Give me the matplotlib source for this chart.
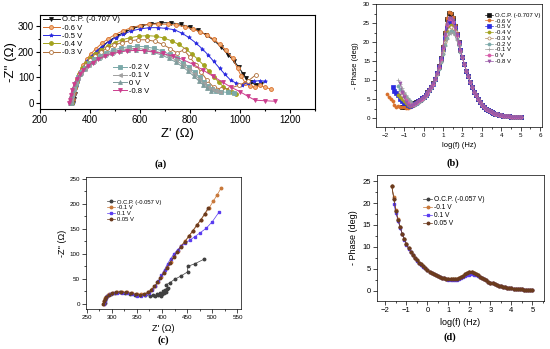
import matplotlib
matplotlib.use("Agg")
import matplotlib.pyplot as plt
from matplotlib.ticker import MultipleLocator

plt.rcParams["font.family"] = ["Liberation Sans", "DejaVu Sans"]

# ── (a) Nyquist plot, first electrode: Z' and -Z'' in ohm ─────────────────
a_ocp_z = [332, 335, 339, 345, 352, 362, 375, 390, 408, 428, 452, 478, 506, 538, 572, 608, 645,
           685, 725, 762, 798, 832, 865, 895, 925, 952, 975, 995, 1012, 1025, 1042, 1062, 1085]
a_ocp_y = [0, 15, 35, 62, 90, 115, 140, 162, 183, 203, 224, 243, 260, 276, 290, 301, 308,
           312, 312, 306, 296, 282, 265, 244, 218, 188, 165, 140, 115, 98, 82, 72, 75]
a_m06_z = [328, 331, 335, 341, 349, 359, 371, 386, 404, 424, 447, 472, 500, 530, 563, 598, 635, 672,
           710, 745, 778, 810, 840, 868, 895, 920, 945, 970, 990, 1005, 1020, 1040, 1060, 1080, 1100, 1125]
a_m06_y = [0, 18, 40, 68, 96, 122, 147, 170, 192, 212, 232, 250, 266, 280, 292, 301, 306, 307,
           306, 303, 297, 288, 277, 264, 248, 228, 205, 175, 135, 105, 80, 66, 62, 70, 62, 55]
a_m05_z = [330, 333, 337, 343, 351, 361, 374, 389, 406, 426, 449, 474, 502, 533, 565, 600, 637, 672,
           705, 737, 767, 795, 822, 848, 872, 895, 918, 940, 962, 985, 1008, 1030, 1055, 1080, 1100]
a_m05_y = [0, 16, 38, 65, 92, 118, 142, 163, 183, 202, 220, 238, 254, 268, 280, 288, 293, 293,
           290, 285, 272, 255, 235, 212, 188, 162, 136, 112, 90, 78, 72, 80, 85, 88, 85]
a_m04_z = [326, 329, 333, 339, 347, 357, 369, 384, 401, 421, 444, 470, 498, 528, 560, 594,
           628, 662, 695, 726, 755, 782, 808, 832, 855, 876, 896, 915, 933, 950, 968, 985]
a_m04_y = [0, 17, 38, 63, 88, 112, 135, 155, 174, 191, 207, 222, 235, 246, 254, 260,
           262, 260, 253, 242, 228, 211, 191, 170, 147, 124, 102, 82, 65, 52, 42, 36]
a_m03_z = [325, 328, 332, 338, 346, 356, 368, 383, 400, 420, 443, 468, 496, 526, 558, 592,
           626, 660, 692, 720, 748, 776, 800, 822, 845, 868, 895, 925, 960, 995, 1030, 1063]
a_m03_y = [0, 16, 36, 60, 84, 108, 130, 150, 168, 184, 199, 213, 225, 235, 242, 246,
           246, 240, 228, 212, 195, 207, 178, 150, 120, 90, 62, 55, 58, 70, 85, 110]
a_m02_z = [322, 325, 329, 335, 343, 353, 365, 380, 397, 417, 440, 465, 493, 523, 555, 588,
           622, 655, 688, 718, 746, 772, 796, 818, 838, 856, 872, 888, 905, 925, 950, 975]
a_m02_y = [0, 15, 33, 55, 78, 100, 120, 138, 155, 170, 184, 196, 206, 214, 219, 221,
           219, 213, 203, 190, 175, 158, 140, 120, 100, 82, 66, 55, 48, 45, 42, 40]
a_m01_z = [320, 323, 327, 333, 341, 351, 363, 378, 395, 415, 438, 463, 491, 521, 553,
           586, 620, 653, 686, 716, 744, 770, 794, 816, 836, 854, 870, 886, 902, 920]
a_m01_y = [0, 14, 32, 54, 76, 97, 116, 134, 150, 165, 178, 190, 200, 207, 212,
           213, 210, 204, 195, 182, 167, 150, 132, 113, 95, 78, 64, 54, 47, 42]
a_0_z = [318, 321, 325, 331, 339, 349, 361, 376, 393, 413, 436, 461, 489, 519,
         551, 584, 618, 651, 684, 714, 742, 768, 792, 814, 834, 852, 868, 884]
a_0_y = [0, 14, 31, 52, 74, 95, 114, 131, 147, 161, 174, 186, 195, 202,
         206, 207, 204, 198, 188, 175, 160, 143, 125, 106, 88, 72, 58, 48]
a_m08_z = [315, 318, 322, 328, 336, 346, 358, 373, 390, 410, 433, 458, 486, 516, 548, 581,
           615, 650, 690, 730, 770, 810, 850, 890, 930, 965, 1000, 1030, 1060, 1100, 1140]
a_m08_y = [0, 14, 31, 52, 73, 93, 112, 129, 144, 158, 171, 182, 191, 198, 203, 205,
           204, 200, 193, 183, 170, 152, 130, 106, 82, 62, 45, 28, 12, 10, 8]

# ── (b) Bode phase, first electrode: log(f) and -phase in deg ─────────────
b_logf_tail = [5.0, 4.9, 4.8, 4.7, 4.6, 4.5, 4.4, 4.3, 4.2, 4.1, 4.0, 3.9, 3.8, 3.7, 3.6, 3.5,
               3.4, 3.3, 3.2, 3.1, 3.0, 2.9, 2.8, 2.7, 2.6, 2.5, 2.4, 2.3, 2.2, 2.1, 2.0]
b_logf_head = [1.9, 1.8, 1.7, 1.6, 1.5, 1.4, 1.3, 1.2, 1.1, 1.0, 0.9, 0.8, 0.7, 0.6, 0.5,
               0.4, 0.3, 0.2, 0.1, 0.0, -0.1, -0.2, -0.3, -0.4, -0.5, -0.6, -0.7, -0.8,
               -0.9, -1.0, -1.1, -1.2, -1.3, -1.4, -1.5, -1.6, -1.7, -1.8, -1.9]
b_phase_tail = [0.25, 0.27, 0.3, 0.33, 0.37, 0.41, 0.46, 0.52, 0.58, 0.66, 0.75, 0.86, 1.0, 1.15,
                1.33, 1.55, 1.8, 2.1, 2.5, 3.0, 3.5, 4.2, 5.0, 6.0, 7.0, 8.2, 9.5, 11.0, 12.5, 14.2, 16.0]
b_ocp = [18.0, 20.0, 22.2, 24.3, 26.2, 27.3, 27.6, 26.0, 22.5, 18.8, 15.8, 13.6, 11.9, 10.4, 9.2,
         8.3, 7.5, 6.8, 6.2, 5.7, 5.2, 4.8, 4.5, 4.2, 3.9, 3.6, 3.4, 3.2, 3.1, 3.0, 2.9]
b_m06 = [18.0, 20.0, 22.3, 24.5, 26.5, 27.6, 27.8, 26.2, 22.7, 19.0, 15.9, 13.7, 12.0, 10.5, 9.3,
         8.4, 7.6, 6.9, 6.2, 5.7, 5.2, 4.8, 4.4, 4.0, 3.6, 3.3, 3.0, 2.8, 2.8, 3.0,
         3.0, 2.9, 3.3, 3.0, 3.6, 4.4, 5.0, 5.7, 6.4]
b_m05 = [17.8, 19.8, 21.8, 23.6, 25.0, 25.5, 25.2, 23.8, 21.2, 18.2, 15.5, 13.4, 11.8, 10.3, 9.1,
         8.2, 7.4, 6.7, 6.1, 5.6, 5.2, 4.8, 4.4, 4.1, 3.8, 3.5, 3.3, 3.6, 4.2, 3.9,
         4.6, 5.0, 6.0, 6.5, 7.2, 8.2]
b_m04 = [17.7, 19.6, 21.5, 23.2, 24.3, 24.5, 24.0, 22.6, 20.4, 17.8, 15.3, 13.3, 11.7, 10.3, 9.1,
         8.2, 7.4, 6.7, 6.1, 5.6, 5.1, 4.7, 4.3, 4.0, 3.7, 3.4, 3.3, 3.5, 3.9, 4.4,
         5.0, 5.6, 6.0]
b_m03 = [17.6, 19.5, 21.3, 22.9, 23.8, 24.0, 23.5, 22.2, 20.0, 17.5, 15.1, 13.2, 11.6, 10.2, 9.0,
         8.1, 7.3, 6.6, 6.0, 5.5, 5.0, 4.6, 4.2, 3.9, 3.6, 3.5, 3.8, 4.2, 4.8, 5.3,
         6.0, 7.0]
b_m02 = [17.4, 19.2, 20.8, 22.0, 22.7, 22.8, 22.3, 21.1, 19.2, 17.0, 14.8, 13.0, 11.5, 10.1, 8.9,
         8.0, 7.2, 6.5, 5.9, 5.4, 4.9, 4.5, 4.1, 3.8, 3.6, 3.8, 4.4, 5.0, 5.6, 6.3,
         7.0, 7.8, 8.5]
b_m01 = [17.3, 19.0, 20.6, 21.8, 22.4, 22.5, 22.0, 20.8, 18.9, 16.8, 14.7, 12.9, 11.4, 10.0, 8.8,
         7.9, 7.1, 6.4, 5.8, 5.3, 4.8, 4.4, 4.0, 3.7, 3.5, 3.9, 4.5, 5.2, 6.0, 7.0,
         8.0, 9.0, 10.0]
b_0 = [17.8, 19.8, 21.9, 23.9, 25.4, 26.1, 26.0, 24.6, 21.8, 18.5, 15.6, 13.5, 11.8, 10.3, 9.1,
       8.2, 7.4, 6.7, 6.1, 5.6, 5.1, 4.7, 4.4, 4.1, 3.8, 3.6, 3.5, 4.0, 4.8, 5.8, 7.0]
b_m08 = [17.9, 19.9, 22.0, 24.0, 25.7, 26.4, 26.3, 24.8, 22.0, 18.6, 15.7, 13.6, 11.9, 10.4, 9.2,
         8.3, 7.5, 6.8, 6.2, 5.7, 5.2, 4.8, 4.4, 4.1, 3.8, 3.5, 3.3, 3.5, 4.2, 5.5,
         7.0, 9.2]

# ── (c) Nyquist plot, second electrode ────────────────────────────────────
c_ocp_z = [286, 287, 289, 293, 299, 307, 316, 326, 336, 346, 356, 366, 377, 382, 387, 390, 393, 396,
           398, 400, 402, 404, 406, 408, 410, 412, 407, 415, 425, 438, 451, 451, 465, 483]
c_ocp_y = [2, 8, 13, 17, 20, 22, 23, 22, 20, 18, 17, 17, 16, 18, 15, 20, 17, 22,
           16, 20, 25, 21, 28, 24, 30, 31, 38, 42, 49, 56, 64, 75, 80, 89]
c_m01_z = [284, 285, 287, 290, 295, 302, 310, 320, 330, 340, 350, 358, 366, 373, 380, 386, 392,
           398, 404, 410, 417, 424, 431, 438, 446, 454, 462, 470, 478, 486, 494, 502, 510, 518]
c_m01_y = [0, 6, 11, 15, 19, 21, 23, 24, 23, 21, 19, 19, 20, 24, 29, 36, 44,
           53, 63, 73, 84, 95, 106, 116, 125, 135, 146, 157, 168, 180, 192, 205, 218, 232]
c_p01_z = [285, 286, 288, 291, 296, 303, 311, 321, 331, 341, 351, 359, 367, 374, 381, 387,
           393, 399, 405, 411, 417, 424, 431, 438, 446, 455, 465, 476, 488, 500, 514]
c_p01_y = [0, 6, 11, 15, 19, 21, 22, 22, 21, 19, 16, 15, 17, 22, 28, 36,
           46, 57, 68, 80, 90, 100, 108, 115, 121, 127, 134, 142, 151, 164, 184]
c_p005_z = [283, 284, 286, 289, 294, 301, 309, 319, 329, 339, 349, 357, 365, 372, 379, 385,
            391, 397, 403, 409, 416, 423, 430, 437, 445, 453, 461, 469, 477, 485, 492]
c_p005_y = [0, 5, 10, 14, 18, 21, 23, 24, 23, 21, 19, 18, 19, 23, 28, 35,
            43, 52, 62, 72, 82, 93, 104, 114, 124, 135, 146, 157, 168, 180, 192]

# ── (d) Bode phase, second electrode ─────────────────────────────────────
d_logf = [5.0, 4.9, 4.8, 4.7, 4.6, 4.5, 4.4, 4.3, 4.2, 4.1, 4.0, 3.9, 3.8, 3.7, 3.6, 3.5, 3.4,
          3.3, 3.2, 3.1, 3.0, 2.9, 2.8, 2.7, 2.6, 2.5, 2.4, 2.3, 2.2, 2.1, 2.0, 1.9, 1.8, 1.7,
          1.6, 1.5, 1.4, 1.3, 1.2, 1.1, 1.0, 0.9, 0.8, 0.7, 0.6, 0.5, 0.4, 0.3, 0.2, 0.1, 0.0,
          -0.1, -0.2, -0.3, -0.4, -0.5, -0.6, -0.7, -0.8, -0.9, -1.0, -1.1, -1.2, -1.3, -1.4,
          -1.5, -1.6, -1.7]
d_ocp = [0.15, 0.16, 0.18, 0.2, 0.22, 0.25, 0.28, 0.32, 0.37, 0.42, 0.48, 0.55, 0.63, 0.73, 0.84,
         0.97, 1.12, 1.28, 1.45, 1.63, 1.82, 2.05, 2.3, 2.6, 2.9, 3.2, 3.55, 3.85, 4.1, 4.25, 4.2,
         4.0, 3.7, 3.4, 3.1, 2.85, 2.7, 2.6, 2.55, 2.55, 2.6, 2.7, 2.8, 2.95, 3.1, 3.3, 3.5, 3.75,
         4.0, 4.3, 4.7, 5.1, 5.5, 5.95, 6.4, 6.9, 7.5, 8.2, 8.9, 9.7, 10.6, 11.7, 13.0, 14.5,
         16.2, 18.1, 21.0, 24.0]
d_m01 = [0.15, 0.16, 0.18, 0.2, 0.22, 0.25, 0.28, 0.32, 0.37, 0.42, 0.48, 0.55, 0.63, 0.73, 0.84,
         0.97, 1.12, 1.28, 1.45, 1.63, 1.82, 2.05, 2.3, 2.6, 2.9, 3.2, 3.55, 3.85, 4.1, 4.25, 4.2,
         4.0, 3.7, 3.4, 3.1, 2.85, 2.7, 2.6, 2.55, 2.55, 2.6, 2.7, 2.8, 2.95, 3.1, 3.3, 3.5, 3.75,
         4.0, 4.3, 4.7, 5.1, 5.5, 5.95, 6.4, 6.9, 7.5, 8.2, 8.9, 9.7, 10.6, 11.7, 13.0, 14.5,
         16.3, 18.3, 21.3, 24.0]
d_p01 = [0.15, 0.16, 0.18, 0.2, 0.22, 0.25, 0.28, 0.32, 0.37, 0.42, 0.48, 0.55, 0.63, 0.73, 0.84,
         0.97, 1.12, 1.28, 1.45, 1.63, 1.82, 2.05, 2.3, 2.55, 2.8, 3.05, 3.3, 3.5, 3.65, 3.7, 3.65,
         3.5, 3.3, 3.05, 2.8, 2.6, 2.5, 2.45, 2.45, 2.45, 2.5, 2.6, 2.75, 2.9, 3.05, 3.25, 3.45, 3.7,
         3.95, 4.25, 4.65, 5.05, 5.45, 5.9, 6.35, 6.85, 7.45, 8.1, 8.8, 9.6, 10.5, 11.6, 12.9, 14.4,
         16.0, 17.8, 19.7]
d_p005 = d_ocp

# ── figure ────────────────────────────────────────────────────────────────
fig = plt.figure(figsize=(5.5, 3.49), dpi=100)


def style_axes(ax, size, lw):
    ax.tick_params(which="both", direction="out", labelsize=size, width=lw, pad=1.5)
    ax.tick_params(which="major", length=2.8)
    ax.tick_params(which="minor", length=1.5)
    for s in ax.spines.values():
        s.set_linewidth(lw)


def legend(ax, handles, x, y, size, spacing, hlen):
    return ax.legend(handles=handles, loc="upper left", bbox_to_anchor=(x, y), frameon=False,
                     fontsize=size, borderpad=0, borderaxespad=0, labelspacing=spacing,
                     handlelength=hlen, handletextpad=0.3)


def caption(x, y, text):
    fig.text(x / 550, 1 - y / 349, text, ha="center", va="center",
             fontfamily="Liberation Serif", fontweight="bold", fontsize=7.5)


# (a)
ax = fig.add_axes([40 / 550, 1 - 109 / 349, 275 / 550, 94 / 349])
series_a = [
    ("O.C.P. (-0.707 V)", a_ocp_z, a_ocp_y, "#111111", "v", "#111111"),
    ("-0.6 V", a_m06_z, a_m06_y, "#d8702c", "o", "#f2b27c"),
    ("-0.5 V", a_m05_z, a_m05_y, "#2b2be0", "*", "#2b2be0"),
    ("-0.4 V", a_m04_z, a_m04_y, "#a3a31e", "o", "#a3a31e"),
    ("-0.3 V", a_m03_z, a_m03_y, "#b0703a", "o", "white"),
    ("-0.2 V", a_m02_z, a_m02_y, "#7aa8a8", "s", "#7aa8a8"),
    ("-0.1 V", a_m01_z, a_m01_y, "#a0a0a0", "<", "#a0a0a0"),
    ("0 V", a_0_z, a_0_y, "#7f9c9c", "^", "#7f9c9c"),
    ("-0.8 V", a_m08_z, a_m08_y, "#cc3d8e", "v", "#cc3d8e"),
]
lines = []
for lbl, z, y, c, mk, mfc in series_a:
    ln, = ax.plot(z, y, color=c, marker=mk, mfc=mfc, mec=c, markersize=2.8, linewidth=0.7,
                  markeredgewidth=0.6, label=lbl)
    lines.append(ln)
ax.set_xlim(200, 1300)
ax.set_ylim(-22, 342)
ax.xaxis.set_major_locator(MultipleLocator(200))
ax.xaxis.set_minor_locator(MultipleLocator(100))
ax.yaxis.set_major_locator(MultipleLocator(100))
ax.yaxis.set_minor_locator(MultipleLocator(50))
style_axes(ax, 7, 0.8)
ax.set_xlabel("Z' (Ω)", fontsize=9.5, labelpad=2)
ax.set_ylabel("-Z'' (Ω)", fontsize=9.5, labelpad=1)
leg1 = legend(ax, lines[:5], 0.01, 0.99, 5.5, 0.12, 2.2)
ax.add_artist(leg1)
legend(ax, lines[5:], 0.265, 0.48, 5.5, 0.08, 1.8)
caption(161, 164, "(a)")

# (b)
ax = fig.add_axes([376 / 550, 1 - 127 / 349, 166 / 550, 123 / 349])
heads_b = [
    ("O.C.P. (-0.707 V)", b_ocp, "#111111", "s", "#111111"),
    ("-0.6 V", b_m06, "#d8702c", "o", "#d8702c"),
    ("-0.5 V", b_m05, "#2b2be0", "s", "#2b2be0"),
    ("-0.4 V", b_m04, "#a3a31e", "o", "#a3a31e"),
    ("-0.3 V", b_m03, "#b08a60", "o", "white"),
    ("-0.2 V", b_m02, "#7aa8a8", "o", "#7aa8a8"),
    ("-0.1 V", b_m01, "#a0a0a0", "+", "#a0a0a0"),
    ("0 V", b_0, "#d85aa8", "o", "#d85aa8"),
    ("-0.8 V", b_m08, "#9a5aa8", "v", "#9a5aa8"),
]
lines = []
for lbl, head, c, mk, mfc in heads_b:
    x = b_logf_tail + b_logf_head[:len(head)]
    y = b_phase_tail + head
    ln, = ax.plot(x, y, color=c, marker=mk, mfc=mfc, mec=c, markersize=2.2, linewidth=0.5,
                  markeredgewidth=0.5, label=lbl)
    lines.append(ln)
ax.set_xlim(-2.45, 6.1)
ax.set_ylim(-2.3, 30)
ax.xaxis.set_major_locator(MultipleLocator(1))
ax.xaxis.set_minor_locator(MultipleLocator(0.5))
ax.yaxis.set_major_locator(MultipleLocator(5))
ax.yaxis.set_minor_locator(MultipleLocator(2.5))
style_axes(ax, 4.5, 0.5)
ax.set_xlabel("log(f) (Hz)", fontsize=5.5, labelpad=3)
ax.set_ylabel("- Phase (deg)", fontsize=5.5, labelpad=3)
legend(ax, lines, 0.655, 0.93, 4.3, 0.1, 1.4)
caption(453, 163, "(b)")

# (c)
ax = fig.add_axes([86 / 550, 1 - 309 / 349, 155 / 550, 132 / 349])
series_cd = [
    ("O.C.P. (-0.057 V)", "#404040", "o"),
    ("-0.1 V", "#c8783a", "o"),
    ("0.1 V", "#5a3cf0", "s"),
    ("0.05 V", "#6b3b1e", "o"),
]
data_c = [(c_ocp_z, c_ocp_y), (c_m01_z, c_m01_y), (c_p01_z, c_p01_y), (c_p005_z, c_p005_y)]
lines = []
for (lbl, c, mk), (z, y) in zip(series_cd, data_c):
    ln, = ax.plot(z, y, color=c, marker=mk, mfc=c, mec=c, markersize=1.8, linewidth=0.5, label=lbl)
    lines.append(ln)
ax.set_xlim(249, 557)
ax.set_ylim(-10, 253)
ax.xaxis.set_major_locator(MultipleLocator(50))
ax.xaxis.set_minor_locator(MultipleLocator(25))
ax.yaxis.set_major_locator(MultipleLocator(50))
ax.yaxis.set_minor_locator(MultipleLocator(25))
style_axes(ax, 4.5, 0.5)
ax.set_xlabel("Z' (Ω)", fontsize=6.5, labelpad=3)
ax.set_ylabel("-Z'' (Ω)", fontsize=6.5, labelpad=2)
legend(ax, lines, 0.135, 0.83, 4.2, 0.15, 1.4)
caption(163, 340, "(c)")

# (d)
ax = fig.add_axes([377 / 550, 1 - 301 / 349, 167 / 550, 126 / 349])
data_d = [d_ocp, d_m01, d_p01, d_p005]
lines = []
for (lbl, c, mk), y in zip(series_cd, data_d):
    ln, = ax.plot(d_logf[:len(y)], y, color=c, marker=mk, mfc=c, mec=c, markersize=1.8,
                  linewidth=0.5, label=lbl)
    lines.append(ln)
ax.set_xlim(-2.4, 5.55)
ax.set_ylim(-2.4, 26.4)
ax.xaxis.set_major_locator(MultipleLocator(1))
ax.xaxis.set_minor_locator(MultipleLocator(0.5))
ax.yaxis.set_major_locator(MultipleLocator(5))
ax.yaxis.set_minor_locator(MultipleLocator(2.5))
style_axes(ax, 5.5, 0.5)
ax.set_xlabel("log(f) (Hz)", fontsize=6.5, labelpad=3)
ax.set_ylabel("- Phase (deg)", fontsize=6.5, labelpad=3)
legend(ax, lines, 0.275, 0.83, 4.8, 0.15, 1.4)
caption(450, 337, "(d)")

fig.savefig("out.png", dpi=100)
